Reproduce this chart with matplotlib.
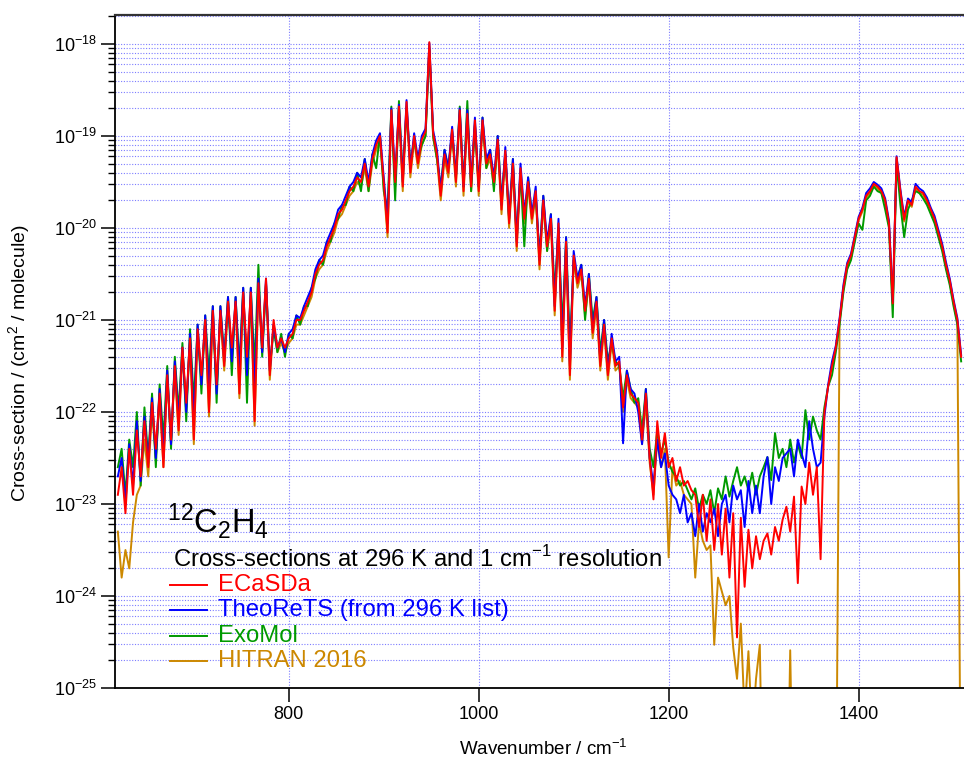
import numpy as np
import matplotlib
matplotlib.use("Agg")
import matplotlib.pyplot as plt
from matplotlib.lines import Line2D
from matplotlib.ticker import LogLocator, NullFormatter, FixedLocator, FuncFormatter

plt.rcParams['font.family'] = ['Liberation Sans', 'DejaVu Sans']
plt.rcParams['mathtext.fontset'] = 'custom'
plt.rcParams['mathtext.rm'] = 'Liberation Sans'

# wavenumber grid (cm-1), 4 cm-1 steps
wn = np.arange(620, 1512, 4)

# log10 of cross-section (cm2/molecule)
ecasda = [
    -22.9, -22.6, -23.1, -22.4, -22.9, -22.2, -22.7, -22.1, -22.6, -21.9,
    -22.4, -21.8, -22.6, -21.6, -22.3, -21.5, -22.2, -21.3, -21.9, -21.2,
    -22.3, -21.1, -21.6, -21.0, -22.0, -20.9, -21.7, -20.9, -21.5, -20.8,
    -21.3, -20.8, -21.8, -20.7, -21.4, -20.7, -22.1, -20.6, -21.3, -20.55,
    -21.6, -21.0, -21.3, -21.2, -21.3, -21.2, -21.15, -21.0, -21.0, -20.9,
    -20.8, -20.7, -20.5, -20.4, -20.35, -20.2, -20.1, -20.0, -19.85, -19.8,
    -19.7, -19.6, -19.55, -19.45, -19.5, -19.3, -19.55, -19.25, -19.1, -19.0,
    -19.5, -20.05, -18.72, -19.5, -18.68, -19.55, -18.63, -19.4, -19.0, -19.3,
    -19.04, -18.95, -17.98, -18.97, -19.2, -19.65, -19.2, -19.4, -18.93, -19.5,
    -18.72, -19.6, -18.76, -19.55, -18.83, -19.6, -18.83, -19.3, -19.2, -19.5,
    -19.04, -19.8, -19.16, -19.95, -19.3, -20.2, -19.35, -19.9, -19.5, -19.9,
    -19.6, -20.4, -19.7, -20.2, -19.9, -20.9, -19.95, -21.4, -20.15, -21.6,
    -20.3, -20.6, -20.45, -20.9, -20.55, -21.14, -20.8, -21.5, -21.05, -21.6,
    -21.2, -21.5, -21.45, -21.95, -21.6, -21.8, -21.85, -21.9, -22.3, -21.8,
    -22.5, -22.95, -22.1, -22.5, -22.23, -22.6, -22.5, -22.75, -22.6, -22.8,
    -22.75, -22.85, -22.9, -23.25, -22.9, -23.4, -22.95, -23.5, -23.0, -23.55,
    -23.05, -23.8, -23.1, -24.45, -23.15, -23.9, -23.28, -23.7, -23.35, -23.6,
    -23.4, -23.32, -23.55, -23.25, -23.4, -23.17, -23.03, -23.3, -22.92, -23.86,
    -22.81, -23.0, -22.55, -22.9, -22.6, -23.6, -22.0, -21.72, -21.5, -21.3,
    -21.0, -20.65, -20.4, -20.3, -20.1, -19.9, -19.8, -19.65, -19.6, -19.52,
    -19.55, -19.6, -19.7, -19.95, -20.82, -19.23, -19.6, -19.91, -19.7, -19.75,
    -19.55, -19.6, -19.62, -19.7, -19.8, -19.9, -20.05, -20.2, -20.4, -20.57,
    -20.8, -21.0, -21.4,
]

theorets = [
    -22.7, -22.5, -23.0, -22.35, -22.8, -22.1, -22.75, -22.05, -22.55, -21.85,
    -22.5, -21.75, -22.5, -21.55, -22.35, -21.45, -22.1, -21.3, -22.0, -21.15,
    -22.1, -21.05, -21.7, -20.95, -21.8, -20.85, -21.8, -20.85, -21.45, -20.75,
    -21.45, -20.75, -21.6, -20.65, -21.6, -20.65, -21.8, -20.55, -21.35, -20.55,
    -21.55, -21.05, -21.3, -21.2, -21.35, -21.15, -21.1, -20.95, -20.98, -20.85,
    -20.75, -20.65, -20.45, -20.35, -20.3, -20.15, -20.05, -19.95, -19.8, -19.75,
    -19.65, -19.55, -19.5, -19.4, -19.45, -19.25, -19.5, -19.2, -19.05, -18.97,
    -19.45, -19.95, -18.7, -19.45, -18.66, -19.5, -18.61, -19.35, -18.97, -19.25,
    -19.0, -18.92, -17.99, -18.94, -19.15, -19.6, -19.15, -19.35, -18.9, -19.45,
    -18.7, -19.55, -18.72, -19.5, -18.8, -19.55, -18.8, -19.25, -19.15, -19.45,
    -19.0, -19.75, -19.12, -19.9, -19.25, -20.15, -19.3, -19.85, -19.45, -19.85,
    -19.55, -20.35, -19.65, -20.15, -19.85, -20.85, -19.9, -21.3, -20.1, -21.5,
    -20.25, -20.55, -20.4, -20.85, -20.5, -21.1, -20.75, -21.45, -21.0, -21.55,
    -21.15, -21.45, -21.4, -22.34, -21.55, -21.75, -21.8, -22.0, -22.35, -21.75,
    -22.5, -22.8, -22.3, -22.6, -22.45, -22.8, -22.9, -22.95, -23.1, -22.9,
    -23.2, -23.1, -23.35, -23.0, -23.3, -23.1, -23.2, -23.05, -23.35, -23.0,
    -22.9, -23.2, -22.8, -22.95, -22.85, -23.25, -22.75, -23.1, -22.8, -23.1,
    -22.7, -22.49, -23.0, -22.6, -22.75, -22.5, -22.45, -22.4, -22.7, -22.3,
    -22.45, -22.6, -22.1, -22.4, -22.6, -22.55, -22.05, -21.7, -21.45, -21.28,
    -20.98, -20.62, -20.38, -20.28, -20.08, -19.88, -19.78, -19.62, -19.57, -19.5,
    -19.53, -19.57, -19.68, -19.92, -20.8, -19.22, -19.58, -19.88, -19.68, -19.72,
    -19.52, -19.57, -19.6, -19.67, -19.78, -19.87, -20.02, -20.17, -20.37, -20.55,
    -20.78, -20.98, -21.38,
]

exomol = [
    -22.6, -22.4, -22.9, -22.3, -22.6, -22.0, -22.8, -21.95, -22.5, -21.8,
    -22.6, -21.7, -22.3, -21.5, -22.4, -21.4, -22.0, -21.25, -22.1, -21.1,
    -21.9, -21.05, -21.8, -20.95, -21.6, -20.85, -21.9, -20.85, -21.4, -20.75,
    -21.6, -20.75, -21.5, -20.65, -21.9, -20.65, -21.5, -20.4, -21.4, -20.6,
    -21.5, -21.1, -21.35, -21.15, -21.4, -21.15, -21.2, -20.95, -21.05, -20.85,
    -20.85, -20.65, -20.55, -20.35, -20.4, -20.15, -20.15, -19.95, -19.9, -19.75,
    -19.75, -19.55, -19.6, -19.4, -19.6, -19.25, -19.6, -19.2, -19.35, -18.98,
    -19.6, -19.8, -18.68, -19.7, -18.62, -19.45, -18.7, -19.3, -19.05, -19.25,
    -19.1, -19.0, -18.05, -19.0, -19.25, -19.55, -19.15, -19.35, -18.95, -19.45,
    -18.68, -19.55, -18.62, -19.6, -18.88, -19.55, -18.8, -19.35, -19.15, -19.6,
    -19.0, -19.7, -19.2, -19.9, -19.25, -20.1, -19.4, -20.2, -19.45, -19.85,
    -19.65, -20.3, -19.65, -20.25, -19.85, -20.7, -20.0, -21.1, -20.1, -21.3,
    -20.35, -20.55, -20.4, -21.0, -20.5, -21.0, -20.75, -21.35, -21.0, -21.45,
    -21.25, -21.45, -21.5, -21.85, -21.55, -21.75, -21.9, -21.85, -22.2, -21.75,
    -22.4, -22.6, -22.2, -22.45, -22.3, -22.55, -22.65, -22.7, -22.8, -22.75,
    -22.85, -22.95, -22.83, -23.05, -22.9, -23.0, -22.85, -23.1, -22.83, -22.95,
    -22.7, -22.92, -22.75, -22.6, -22.8, -22.7, -22.85, -22.66, -22.9, -22.7,
    -22.6, -22.49, -22.74, -22.23, -22.5, -22.4, -22.6, -22.3, -22.55, -22.35,
    -22.5, -21.98, -22.3, -22.05, -22.2, -22.3, -21.95, -21.72, -21.6, -21.35,
    -21.05, -20.7, -20.45, -20.35, -20.15, -19.95, -20.02, -19.7, -19.65, -19.55,
    -19.6, -19.62, -19.8, -20.0, -20.97, -19.3, -19.75, -20.1, -19.8, -19.7,
    -19.6, -19.62, -19.68, -19.75, -19.85, -19.95, -20.1, -20.25, -20.45, -20.62,
    -20.85, -21.05, -21.45,
]

# -27 = no absorption (falls below the axis)
hitran = [
    -23.3, -23.8, -23.5, -23.7, -23.2, -22.9, -22.8, -22.3, -22.7, -22.0,
    -22.5, -21.85, -22.6, -21.65, -22.35, -21.55, -22.25, -21.35, -21.95, -21.25,
    -22.35, -21.15, -21.65, -21.05, -22.05, -20.95, -21.75, -20.95, -21.55, -20.85,
    -21.35, -20.85, -21.85, -20.75, -21.45, -20.75, -22.15, -20.65, -21.35, -20.6,
    -21.65, -21.05, -21.35, -21.25, -21.35, -21.25, -21.2, -21.05, -21.05, -20.95,
    -20.85, -20.75, -20.55, -20.45, -20.4, -20.25, -20.15, -20.05, -19.9, -19.85,
    -19.75, -19.65, -19.6, -19.5, -19.55, -19.35, -19.6, -19.3, -19.15, -19.05,
    -19.55, -20.1, -18.77, -19.55, -18.73, -19.6, -18.68, -19.45, -19.05, -19.35,
    -19.1, -19.0, -18.03, -19.02, -19.25, -19.7, -19.25, -19.45, -18.98, -19.55,
    -18.77, -19.65, -18.81, -19.6, -18.88, -19.65, -18.88, -19.35, -19.25, -19.55,
    -19.1, -19.85, -19.2, -20.0, -19.35, -20.25, -19.4, -19.95, -19.55, -19.95,
    -19.65, -20.45, -19.75, -20.25, -19.95, -20.95, -20.0, -21.45, -20.2, -21.65,
    -20.35, -20.65, -20.5, -20.95, -20.6, -21.2, -20.85, -21.55, -21.1, -21.65,
    -21.25, -21.55, -21.5, -22.0, -21.65, -21.85, -21.9, -21.95, -22.35, -21.9,
    -22.55, -22.9, -22.3, -22.6, -22.4, -23.58, -22.6, -22.8, -22.75, -22.9,
    -22.95, -23.0, -23.8, -23.2, -23.4, -23.5, -23.45, -24.53, -23.8, -23.95,
    -24.1, -24.0, -24.56, -24.9, -24.3, -25.3, -24.6, -25.5, -24.9, -24.53,
    -27, -27, -27, -27, -27, -27, -27, -24.59, -27, -27,
    -27, -27, -27, -27, -27, -27, -27, -27, -27, -27,
    -21.02, -20.67, -20.42, -20.32, -20.12, -19.92, -19.82, -19.67, -19.62, -19.54,
    -19.57, -19.62, -19.72, -19.97, -20.84, -19.25, -19.62, -19.93, -19.72, -19.77,
    -19.57, -19.62, -19.64, -19.72, -19.82, -19.92, -20.07, -20.22, -20.42, -20.59,
    -20.82, -21.02, -27,
]

# drawing order: bottom to top
series = [
    ("HITRAN 2016", hitran, "#cc8800"),
    ("ExoMol", exomol, "#009a00"),
    ("TheoReTS (from 296 K list)", theorets, "#0000ff"),
    ("ECaSDa", ecasda, "#ff0000"),
]
legend_order = ["ECaSDa", "TheoReTS (from 296 K list)", "ExoMol", "HITRAN 2016"]
decades = [-25, -24, -23, -22, -21, -20, -19, -18]

W, H = 964, 763
fig = plt.figure(figsize=(W / 100, H / 100), dpi=100)
ax = fig.add_axes([115 / W, 75 / H, 849 / W, 673 / H])

colors = {}
for name, vals, col in series:
    ax.plot(wn, 10.0 ** np.array(vals), color=col, lw=1.4)
    colors[name] = col

ax.set_yscale('log')
ax.set_xlim(617, 1511)
ax.set_ylim(1e-25, 10 ** -17.685)

ax.xaxis.set_major_locator(FixedLocator([800, 1000, 1200, 1400]))
ax.yaxis.set_major_locator(FixedLocator([10.0 ** d for d in decades]))
ax.yaxis.set_minor_locator(LogLocator(base=10, subs=np.arange(2, 10), numticks=20))
ax.yaxis.set_minor_formatter(NullFormatter())
ax.yaxis.set_major_formatter(FuncFormatter(
    lambda v, p: r'$\mathregular{10^{%d}}$' % round(np.log10(v))))

gridkw = dict(color='#6f6fff', linestyle=(0, (1, 1.5)), linewidth=0.8, alpha=0.9)
ax.grid(True, which='both', axis='y', **gridkw)
ax.grid(True, which='major', axis='x', **gridkw)
ax.set_axisbelow(True)

ax.tick_params(which='major', direction='out', length=10, width=1.1, labelsize=13, pad=3)
ax.tick_params(which='minor', direction='out', length=5, width=1.0)
ax.spines['right'].set_visible(False)
ax.spines['top'].set_color('#333333')
ax.spines['top'].set_linewidth(1.6)
for s in ('left', 'bottom'):
    ax.spines[s].set_linewidth(1.3)

ax.set_xlabel(r'Wavenumber / cm$^{\mathregular{-1}}$', fontsize=13.5)
ax.xaxis.set_label_coords(0.505, -0.075)
ax.set_ylabel(r'Cross-section / (cm$^{\mathregular{2}}$ / molecule)', fontsize=14)
ax.yaxis.set_label_coords(-0.097, 0.483)


# annotation and legend placed in pixel positions (from top-left)
def fx(px):
    return px / W


def fy(py):
    return 1 - py / H


fig.text(fx(167), fy(533), r'$\mathregular{^{12}C_2H_4}$', fontsize=23.5,
         ha='left', va='baseline')
fig.text(fx(173), fy(567),
         r'Cross-sections at 296 K and 1 cm$^{\mathregular{-1}}$ resolution',
         fontsize=17.2, ha='left', va='baseline')
for i, name in enumerate(legend_order):
    base = 591 + 25.3 * i
    fig.add_artist(Line2D([fx(170), fx(207)], [fy(base - 6), fy(base - 6)],
                          color=colors[name], lw=1.4))
    fig.text(fx(218), fy(base), name, fontsize=17.2, color=colors[name],
             ha='left', va='baseline')

fig.savefig('out.png', dpi=100)
